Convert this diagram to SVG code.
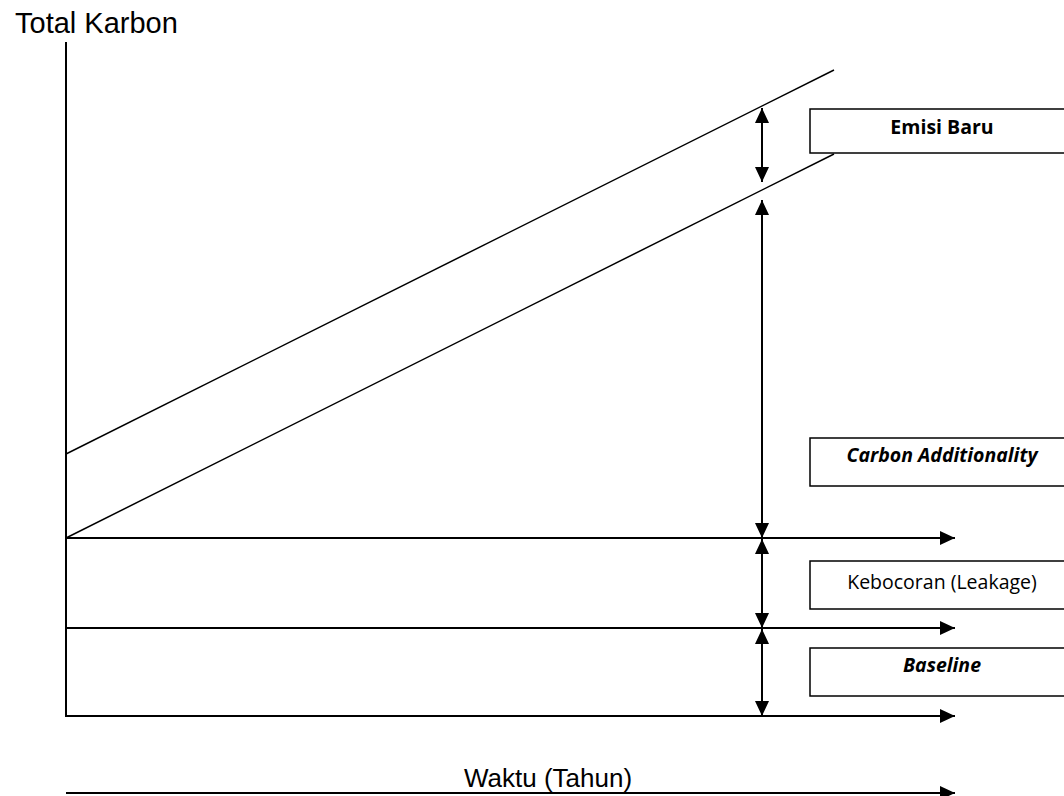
<svg xmlns="http://www.w3.org/2000/svg" width="1064" height="796" viewBox="0 0 1064 796">
<style>
.ax{stroke:#000;stroke-width:2;fill:none}
.dg{stroke:#000;stroke-width:1.5;fill:none}
.box{fill:#fff;stroke:#000;stroke-width:1.5}
.lbl{font-family:"Open Sans","Noto Sans",sans-serif;font-size:19.5px;fill:#000;text-anchor:middle}
.ttl{font-family:"Liberation Sans",Arial,sans-serif;fill:#000}
</style>
<defs>
<marker id="ah" markerUnits="userSpaceOnUse" markerWidth="16" markerHeight="14" refX="15" refY="7" orient="auto">
<path d="M0,0 L15,7 L0,14 Z" fill="#000"/>
</marker>
<marker id="as" markerUnits="userSpaceOnUse" markerWidth="16" markerHeight="14" refX="0" refY="7" orient="auto">
<path d="M15,0 L0,7 L15,14 Z" fill="#000"/>
</marker>
</defs>
<g id="axes">
<line class="ax" x1="66" y1="42" x2="66" y2="717"/>
<text class="ttl" x="15" y="33" font-size="29">Total Karbon</text>
<text class="ttl" x="464" y="787" font-size="26">Waktu (Tahun)</text>
</g>
<g id="connectors">
<line class="dg" x1="66" y1="454" x2="834" y2="70"/>
<line class="dg" x1="66" y1="538" x2="834" y2="154"/>
<line class="ax" x1="66" y1="538" x2="955" y2="538" marker-end="url(#ah)"/>
<line class="ax" x1="66" y1="628" x2="955" y2="628" marker-end="url(#ah)"/>
<line class="ax" x1="66" y1="716" x2="955" y2="716" marker-end="url(#ah)"/>
<line class="ax" x1="66" y1="793" x2="955" y2="793" marker-end="url(#ah)"/>
<line class="ax" x1="762" y1="108" x2="762" y2="182" marker-start="url(#as)" marker-end="url(#ah)"/>
<line class="ax" x1="762" y1="200" x2="762" y2="538" marker-start="url(#as)" marker-end="url(#ah)"/>
<line class="ax" x1="762" y1="539" x2="762" y2="628" marker-start="url(#as)" marker-end="url(#ah)"/>
<line class="ax" x1="762" y1="629" x2="762" y2="716" marker-start="url(#as)" marker-end="url(#ah)"/>
</g>
<g id="emisi-baru">
<rect class="box" x="810" y="109" width="260" height="44"/>
<text class="lbl" x="942" y="134" font-weight="bold">Emisi Baru</text>
</g>
<g id="carbon-additionality">
<rect class="box" x="810" y="438" width="260" height="48"/>
<text class="lbl" x="942" y="462" font-weight="bold" font-style="italic">Carbon Additionality</text>
</g>
<g id="kebocoran">
<rect class="box" x="810" y="561" width="260" height="48"/>
<text class="lbl" x="942" y="589">Kebocoran (Leakage)</text>
</g>
<g id="baseline">
<rect class="box" x="810" y="648" width="260" height="48"/>
<text class="lbl" x="942" y="672" font-weight="bold" font-style="italic">Baseline</text>
</g>
</svg>
